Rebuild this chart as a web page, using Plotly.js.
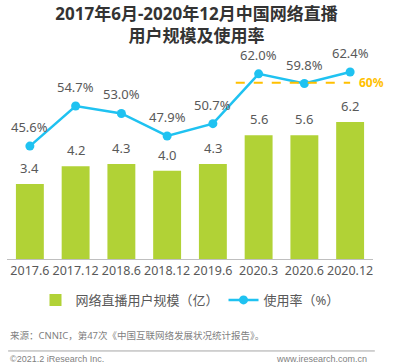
<!DOCTYPE html>
<html>
<head>
<meta charset="utf-8">
<script src="https://cdn.plot.ly/plotly-3.0.1.min.js"></script>
<style>html,body{margin:0;padding:0;background:#fff;}#chart{width:393px;height:364px;}</style>
</head>
<body>
<div id="chart"></div>
<script>
const categories = ['2017.6','2017.12','2018.6','2018.12','2019.6','2020.3','2020.6','2020.12'];
const users = [3.4, 4.2, 4.3, 4.0, 4.3, 5.6, 5.6, 6.2];
const rate = [45.6, 54.7, 53.0, 47.9, 50.7, 62.0, 59.8, 62.4];
const userLabels = ['3.4','4.2','4.3','4.0','4.3','5.6','5.6','6.2'];
const rateLabels = ['45.6%','54.7%','53.0%','47.9%','50.7%','62.0%','59.8%','62.4%'];
const threshold = 60;
const thresholdLabel = '60%';
const barName = '网络直播用户规模（亿）';
const lineName = '使用率（%）';
const titleText = '2017年6月-2020年12月中国网络直播<br>用户规模及使用率';
const sourceText = '来源：CNNIC，第47次《中国互联网络发展状况统计报告》。';
const footerLeft = '©2021.2 iResearch Inc.';
const footerRight = 'www.iresearch.com.cn';

const FONT = 'Noto Sans, Noto Sans CJK SC, sans-serif';
const GRAY = '#595959';
const BAR = '#B1D236';
const LINE = '#1FC2F1';

const idx = categories.map((_, i) => i);
const lastIdx = idx[idx.length - 1];

const traces = [
  {type:'bar', x:idx, y:users, name:barName, marker:{color:BAR}, hoverinfo:'none'},
  {type:'scatter', mode:'lines+markers', x:idx, y:rate, yaxis:'y2', name:lineName,
   line:{color:LINE, width:2.5}, marker:{color:LINE, size:9}, cliponaxis:false, hoverinfo:'none'}
];

const annotations = [];
idx.forEach(i => {
  annotations.push({x:i, y:users[i], xref:'x', yref:'y', text:userLabels[i], showarrow:false,
    yanchor:'bottom', yshift:5, font:{family:FONT, size:13, color:GRAY}});
  annotations.push({x:i, y:rate[i], xref:'x', yref:'y2', text:rateLabels[i], showarrow:false,
    yanchor:'bottom', yshift:8, font:{family:FONT, size:13, color:GRAY}});
});
annotations.push({x:lastIdx, y:threshold, xref:'x', yref:'y2', text:'<b>'+thresholdLabel+'</b>', showarrow:false,
  xanchor:'left', yanchor:'middle', xshift:7, font:{family:FONT, size:12, color:'#FFC000'}});
annotations.push({x:0.003, y:-0.368, xref:'paper', yref:'paper', text:sourceText, showarrow:false,
  xanchor:'left', yanchor:'middle', font:{family:FONT, size:9.5, color:'#7f7f7f'}});
annotations.push({x:0.003, y:-0.478, xref:'paper', yref:'paper', text:footerLeft, showarrow:false,
  xanchor:'left', yanchor:'middle', font:{family:'Liberation Sans, Arial, sans-serif', size:9, color:'#7f7f7f'}});
annotations.push({x:0.99, y:-0.478, xref:'paper', yref:'paper', text:footerRight, showarrow:false,
  xanchor:'right', yanchor:'middle', font:{family:'Liberation Sans, Arial, sans-serif', size:9, color:'#7f7f7f'}});

const shapes = [
  {type:'line', xref:'x', yref:'y2', x0:lastIdx - 2.5, x1:lastIdx, y0:threshold, y1:threshold,
   line:{color:'#FFC000', width:2, dash:'dash'}},
  {type:'line', xref:'paper', yref:'paper', x0:0.003, x1:1.005, y0:-0.44, y1:-0.44,
   line:{color:'#a6a6a6', width:1}}
];

const layout = {
  width:393, height:364,
  margin:{l:7, r:20, t:50, b:105},
  paper_bgcolor:'#fff', plot_bgcolor:'#fff',
  font:{family:FONT, size:13, color:GRAY},
  title:{text:titleText, x:0.5, xref:'container', xanchor:'center', y:0.945, yref:'container', yanchor:'top',
    font:{family:FONT, size:17, color:'#333333', weight:'bold'}},
  bargap:0.39,
  showlegend:true,
  legend:{orientation:'h', x:0.5, xanchor:'center', y:-0.196, yanchor:'middle',
    font:{family:FONT, size:13, color:GRAY}, tracegroupgap:0},
  xaxis:{type:'linear', range:[-0.5, lastIdx + 0.5], tickmode:'array', tickvals:idx, ticktext:categories,
    tickangle:0, showline:true, linecolor:'#bfbfbf', linewidth:1, ticks:'', showgrid:false, zeroline:false,
    tickfont:{family:FONT, size:12.5, color:GRAY}},
  yaxis:{range:[0,9.46], visible:false, showgrid:false, zeroline:false},
  yaxis2:{range:[20,67.4], overlaying:'y', side:'right', visible:false, showgrid:false, zeroline:false},
  annotations:annotations,
  shapes:shapes
};

Plotly.newPlot('chart', traces, layout, {displayModeBar:false, staticPlot:true});
</script>
</body>
</html>
